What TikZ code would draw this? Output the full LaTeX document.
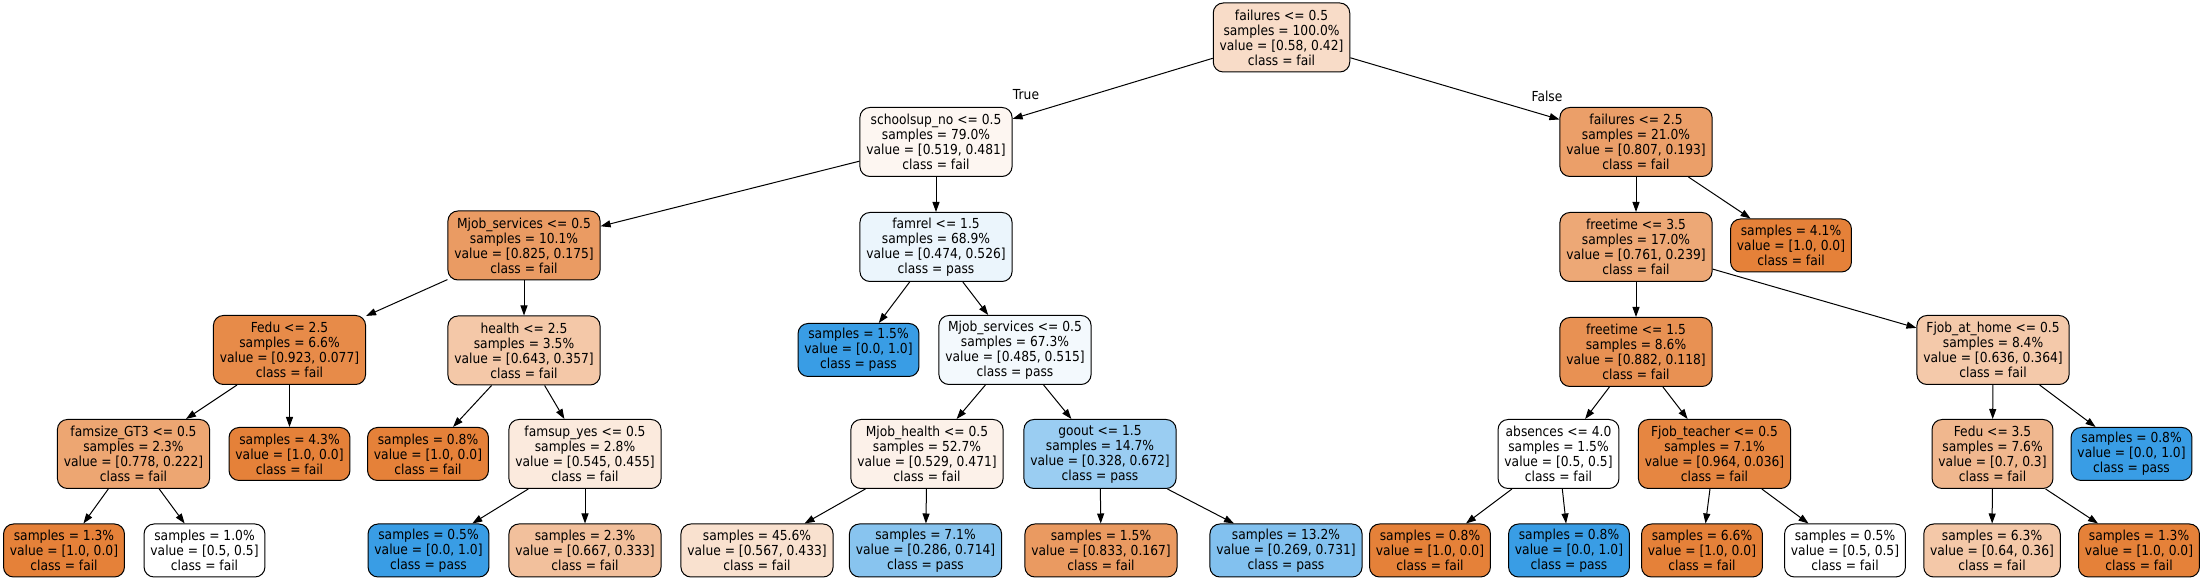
\documentclass[tikz,border=0pt]{standalone}
\usepackage{fontspec}
\setmainfont{DejaVu Sans}[FakeStretch=0.89]
\usepackage{tikz}
\usetikzlibrary{arrows.meta, positioning}
\definecolor{cfail}{HTML}{E58139}
\definecolor{cpass}{HTML}{399DE5}
\tikzset{
    split/.style={
        rectangle, draw, rounded corners=5pt,
        line width=0.5pt, align=center,
        inner xsep=3.2pt, inner ysep=1pt,
        minimum height=34.5pt,
        font=\fontsize{6.9pt}{7.5pt}\selectfont
    },
    leaf/.style={
        split,
        minimum height=26.5pt
    },
    conn/.style={
        line width=0.5pt,
        -{Triangle[length=5pt, width=3.5pt]},
    },
    lbl/.style={
        font=\fontsize{6.9pt}{7.5pt}\selectfont,
        inner sep=0pt
    },
}

\begin{document}
\begin{tikzpicture}
            [x=0.5pt, y=-0.5pt]
            \useasboundingbox (0,0) rectangle (2204,581);
            % Draw root and first split
            \node[split, fill=cfail!28] (fail05) at (1281.5,37.5) {failures <= 0.5\\samples = 100.0\%\\value = [0.58, 0.42]\\class = fail};
            \node[split, fill=cfail!7] (school) at (936,142) {schoolsup\_no <= 0.5\\samples = 79.0\%\\value = [0.519, 0.481]\\class = fail};
            \node[split, fill=cfail!76] (fail25) at (1636,142) {failures <= 2.5\\samples = 21.0\%\\value = [0.807, 0.193]\\class = fail};
            \node[lbl] (true) at (1026,95) {True};
            \node[lbl] (false) at (1547,96) {False};

            \draw[conn] (fail05) -- (school);
            \draw[conn] (fail05) -- (fail25);

            % Draw left branch
            \node[split, fill=cfail!79] (mjob) at (524,245.5) {Mjob\_services <= 0.5\\samples = 10.1\%\\value = [0.825, 0.175]\\class = fail};
            \node[split, fill=cpass!10, below=17.5pt of school] (famrel) {famrel <= 1.5\\samples = 68.9\%\\value = [0.474, 0.526]\\class = pass};

            \node[split, fill=cfail!92] (fedu25) at (289.5,350) {Fedu <= 2.5\\samples = 6.6\%\\value = [0.923, 0.077]\\class = fail};
            \node[split, fill=cfail!44, below=17.5pt of mjob] (health) {health <= 2.5\\samples = 3.5\%\\value = [0.643, 0.357]\\class = fail};
            \node[leaf, fill=cpass] (famrelL) at (858.5,350) {samples = 1.5\%\\value = [0.0, 1.0]\\class = pass};
            \node[split, fill=cpass!6] (mjob2) at (1015,350) {Mjob\_services <= 0.5\\samples = 67.3\%\\value = [0.485, 0.515]\\class = pass};

            \node[split, fill=cfail!71] (famsize) at (133.5,454) {famsize\_GT3 <= 0.5\\samples = 2.3\%\\value = [0.778, 0.222]\\class = fail};
            \node[leaf, fill=cfail] (fedu25R) at (289.5,454) {samples = 4.3\%\\value = [1.0, 0.0]\\class = fail};
            \node[leaf, fill=cfail] (healthL) at (428,454) {samples = 0.8\%\\value = [1.0, 0.0]\\class = fail};
            \node[split, fill=cfail!17] (famsup) at (585,454) {famsup\_yes <= 0.5\\samples = 2.8\%\\value = [0.545, 0.455]\\class = fail};
            \node[split, fill=cfail!11] (mjobh) at (927,454) {Mjob\_health <= 0.5\\samples = 52.7\%\\value = [0.529, 0.471]\\class = fail};
            \node[split, fill=cpass!51] (goout) at (1100,454) {goout <= 1.5\\samples = 14.7\%\\value = [0.328, 0.672]\\class = pass};

            \node[leaf, fill=cfail] (famsizeL) at (64,550.5) {samples = 1.3\%\\value = [1.0, 0.0]\\class = fail};
            \node[leaf, fill=white] (famsizeR) at (204.5,550.5) {samples = 1.0\%\\value = [0.5, 0.5]\\class = fail};
            \node[leaf, fill=cpass] (famsupL) at (428.5,550.5) {samples = 0.5\%\\value = [0.0, 1.0]\\class = pass};
            \node[leaf, fill=cfail!50] (famsupR) at (585,550.5) {samples = 2.3\%\\value = [0.667, 0.333]\\class = fail};
            \node[leaf, fill=cfail!24] (mjobhL) at (757,550.5) {samples = 45.6\%\\value = [0.567, 0.433]\\class = fail};
            \node[leaf, fill=cpass!60] (mjobhR) at (925.5,550.5) {samples = 7.1\%\\value = [0.286, 0.714]\\class = pass};
            \node[leaf, fill=cfail!80] (gooutL) at (1101,550.5) {samples = 1.5\%\\value = [0.833, 0.167]\\class = fail};
            \node[leaf, fill=cpass!63] (gooutR) at (1286,550.5) {samples = 13.2\%\\value = [0.269, 0.731]\\class = pass};

            \draw[conn] (school) -- (mjob);
            \draw[conn] (school) -- (famrel);
            \draw[conn] (mjob) -- (fedu25);
            \draw[conn] (mjob) -- (health);
            \draw[conn] (famrel) -- (famrelL);
            \draw[conn] (famrel) -- (mjob2);
            \draw[conn] (fedu25) -- (famsize);
            \draw[conn] (fedu25) -- (fedu25R);
            \draw[conn] (health) -- (healthL);
            \draw[conn] (health) -- (famsup);
            \draw[conn] (mjob2) -- (mjobh);
            \draw[conn] (mjob2) -- (goout);
            \draw[conn] (famsize) -- (famsizeL);
            \draw[conn] (famsize) -- (famsizeR);
            \draw[conn] (famsup) -- (famsupL);
            \draw[conn] (famsup) -- (famsupR);
            \draw[conn] (mjobh) -- (mjobhL);
            \draw[conn] (mjobh) -- (mjobhR);
            \draw[conn] (goout) -- (gooutL);
            \draw[conn] (goout) -- (gooutR);

            % Draw right branch
            \node[split, fill=cfail!69, below=17.5pt of fail25] (free35) {freetime <= 3.5\\samples = 17.0\%\\value = [0.761, 0.239]\\class = fail};
            \node[leaf, fill=cfail] (fail25R) at (1791,245.5) {samples = 4.1\%\\value = [1.0, 0.0]\\class = fail};

            \node[split, fill=cfail!87, below=17.5pt of free35] (free15) {freetime <= 1.5\\samples = 8.6\%\\value = [0.882, 0.118]\\class = fail};
            \node[split, fill=cfail!43] (fjobhome) at (1993,350) {Fjob\_at\_home <= 0.5\\samples = 8.4\%\\value = [0.636, 0.364]\\class = fail};

            \node[split, fill=white] (absences) at (1558.5,454) {absences <= 4.0\\samples = 1.5\%\\value = [0.5, 0.5]\\class = fail};
            \node[split, fill=cfail!96] (fjobteach) at (1714.5,454) {Fjob\_teacher <= 0.5\\samples = 7.1\%\\value = [0.964, 0.036]\\class = fail};
            \node[split, fill=cfail!57] (fedu35) at (1992.5,454) {Fedu <= 3.5\\samples = 7.6\%\\value = [0.7, 0.3]\\class = fail};
            \node[leaf, fill=cpass] (fjobhomeR) at (2131.5,454) {samples = 0.8\%\\value = [0.0, 1.0]\\class = pass};

            \node[leaf, fill=cfail] (absencesL) at (1430,550.5) {samples = 0.8\%\\value = [1.0, 0.0]\\class = fail};
            \node[leaf, fill=cpass] (absencesR) at (1569,550.5) {samples = 0.8\%\\value = [0.0, 1.0]\\class = pass};
            \node[leaf, fill=cfail] (fjobteachL) at (1702,550.5) {samples = 6.6\%\\value = [1.0, 0.0]\\class = fail};
            \node[leaf, fill=white] (fjobteachR) at (1845,550.5) {samples = 0.5\%\\value = [0.5, 0.5]\\class = fail};
            \node[leaf, fill=cfail!44] (fedu35L) at (1992,550.5) {samples = 6.3\%\\value = [0.64, 0.36]\\class = fail};
            \node[leaf, fill=cfail] (fedu35R) at (2139,550.5) {samples = 1.3\%\\value = [1.0, 0.0]\\class = fail};

            \draw[conn] (fail25) -- (free35);
            \draw[conn] (fail25) -- (fail25R);
            \draw[conn] (free35) -- (free15);
            \draw[conn] (free35) -- (fjobhome);
            \draw[conn] (free15) -- (absences);
            \draw[conn] (free15) -- (fjobteach);
            \draw[conn] (fjobhome) -- (fedu35);
            \draw[conn] (fjobhome) -- (fjobhomeR);
            \draw[conn] (absences) -- (absencesL);
            \draw[conn] (absences) -- (absencesR);
            \draw[conn] (fjobteach) -- (fjobteachL);
            \draw[conn] (fjobteach) -- (fjobteachR);
            \draw[conn] (fedu35) -- (fedu35L);
            \draw[conn] (fedu35) -- (fedu35R);

        \end{tikzpicture}
\end{document}
